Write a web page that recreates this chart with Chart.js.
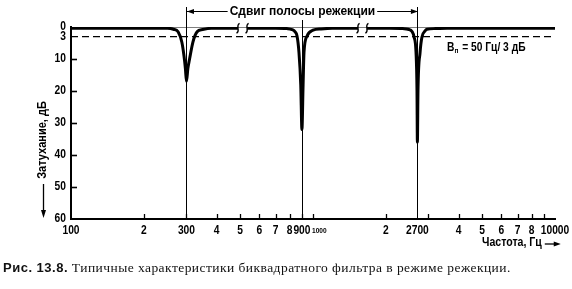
<!DOCTYPE html>
<html lang="ru">
<head>
<meta charset="UTF-8" />
<title>Рис. 13.8</title>
<script src="https://cdn.jsdelivr.net/npm/chart.js"></script>
<style>
  body { margin: 0; background: #fff; }
  #wrap { position: relative; width: 572px; height: 289px; overflow: hidden; }
  canvas { position: absolute; left: 0; top: 0; }
  .caption {
    position: absolute; left: 3px; top: 260px; white-space: nowrap; color: #111;
    font: 13.5px "Liberation Serif"; letter-spacing: 0.45px;
  }
  .caption b { font: bold 13px "Liberation Sans"; letter-spacing: 0.5px; }
</style>
</head>
<body>
<div id="wrap">
  <canvas id="chart" width="572" height="289"></canvas>
  <div class="caption"><b>Рис. 13.8.</b> Типичные характеристики биквадратного фильтра в режиме режекции.</div>
</div>
<script>
// notch centres, Hz
const notchFreqs = [300, 900, 2700];

// three pieces of the measured response: frequency (Hz) / attenuation (dB)
const freqA = [100, 250, 265, 277, 287, 293, 297, 300, 304, 309, 319, 332, 350, 380, 490];
const attA  = [0.4, 0.4, 0.7, 1.5, 4.7, 9, 13, 17, 13, 10, 4.7, 1.5, 0.8, 0.4, 0.4];

const freqB = [534, 700, 780, 819, 845, 859, 875, 890, 900, 910, 918, 945, 1000, 1080, 1200, 1535];
const attB  = [0.4, 0.4, 0.5, 0.8, 1.6, 2.8, 7.9, 18, 32, 18, 7.9, 2.8, 1.0, 0.6, 0.4, 0.4];

const freqC = [1670, 2080, 2350, 2470, 2570, 2615, 2665, 2690, 2700, 2715, 2770, 2820, 2900, 2958, 3200, 3580, 10000];
const attC  = [0.4, 0.4, 0.5, 0.7, 1.5, 3.1, 7.9, 20, 36, 20, 7.9, 3.1, 1.3, 0.7, 0.5, 0.4, 0.4];

// where the pieces are joined (break marks on the 0 dB line)
const breakFreqs = [490, 534, 1535, 1670];

const dashLevel = 3;
const yTicks = [0, 3, 10, 20, 30, 40, 50, 60];
const yMinorTicks = [10, 20, 30, 40, 50];

const xTickMarks = [200, 300, 400, 500, 600, 700, 800, 900, 1000, 2000, 3000, 4000, 5000, 6000, 7000, 8000, 9000];
const xLabelValues = [100, 200, 300, 400, 500, 600, 700, 800, 900, 1000, 2000, 2700, 4000, 5000, 6000, 7000, 8000, 10000];
const xLabelTexts  = ['100', '2', '300', '4', '5', '6', '7', '8', '900', '1000', '2', '2700', '4', '5', '6', '7', '8', '10000'];

function toPoints(fs, as) {
  return fs.map((f, i) => ({ x: f, y: as[i] }));
}

function piece(fs, as) {
  return {
    data: toPoints(fs, as),
    borderColor: '#000',
    borderWidth: 3,
    cubicInterpolationMode: 'monotone',
    pointRadius: 0
  };
}

// bold sans squeezed horizontally, the book uses a condensed face
function narrowText(ctx, text, x, y, size, align, squeeze) {
  squeeze = squeeze || 0.82;
  ctx.save();
  ctx.font = 'bold ' + size + 'px "Liberation Sans"';
  ctx.textAlign = align;
  ctx.textBaseline = 'middle';
  const w = ctx.measureText(text).width * squeeze;
  ctx.translate(x, y);
  ctx.scale(squeeze, 1);
  ctx.fillText(text, 0, 0);
  ctx.restore();
  return w;
}

const decor = {
  id: 'decor',
  afterDraw(chart) {
    const { ctx, chartArea: a, scales: { x, y } } = chart;
    ctx.save();
    ctx.strokeStyle = '#000';
    ctx.fillStyle = '#000';

    // thin vertical lines through the notches
    ctx.lineWidth = 1;
    notchFreqs.forEach((f, i) => {
      const px = Math.round(x.getPixelForValue(f)) + 0.5;
      ctx.beginPath();
      ctx.moveTo(px, i === 1 ? a.top - 7 : a.top - 20);
      ctx.lineTo(px, a.bottom);
      ctx.stroke();
    });

    // bracket "Сдвиг полосы режекции"
    const bx0 = x.getPixelForValue(notchFreqs[0]) + 0.5;
    const bx1 = x.getPixelForValue(notchFreqs[2]) + 0.5;
    const by = a.top - 15.5;
    ctx.font = 'bold 12px "Liberation Sans"';
    ctx.textAlign = 'center';
    ctx.textBaseline = 'middle';
    const label = 'Сдвиг полосы режекции';
    const cx = (bx0 + bx1) / 2;
    const tw = ctx.measureText(label).width;
    ctx.fillText(label, cx, by);
    ctx.beginPath();
    ctx.moveTo(bx0, by); ctx.lineTo(cx - tw / 2 - 2, by);
    ctx.moveTo(cx + tw / 2 + 2, by); ctx.lineTo(bx1, by);
    ctx.stroke();
    ctx.beginPath();
    ctx.moveTo(bx0, by); ctx.lineTo(bx0 + 7, by - 2.5); ctx.lineTo(bx0 + 7, by + 2.5); ctx.closePath();
    ctx.moveTo(bx1, by); ctx.lineTo(bx1 - 7, by - 2.5); ctx.lineTo(bx1 - 7, by + 2.5); ctx.closePath();
    ctx.fill();

    // break marks
    ctx.lineWidth = 1.3;
    breakFreqs.forEach(f => {
      const px = x.getPixelForValue(f);
      const py = y.getPixelForValue(0.4);
      ctx.beginPath();
      ctx.moveTo(px - 1.5, py + 5);
      ctx.bezierCurveTo(px + 3, py + 2, px - 3, py - 2, px + 1.5, py - 5);
      ctx.stroke();
    });

    // inward ticks
    ctx.lineWidth = 1.3;
    xTickMarks.forEach(v => {
      const px = Math.round(x.getPixelForValue(v)) + 0.5;
      ctx.beginPath();
      ctx.moveTo(px, a.bottom);
      ctx.lineTo(px, a.bottom - 5);
      ctx.stroke();
    });
    ctx.lineWidth = 1.6;
    yMinorTicks.forEach(v => {
      const py = Math.round(y.getPixelForValue(v)) + 0.5;
      ctx.beginPath();
      ctx.moveTo(a.left, py);
      ctx.lineTo(a.left + 6, py);
      ctx.stroke();
    });

    // y tick labels
    yTicks.forEach(v => {
      narrowText(ctx, String(v), a.left - 5, y.getPixelForValue(v), 12.5, 'right');
    });

    // x tick labels
    xLabelValues.forEach((v, i) => {
      const px = x.getPixelForValue(v);
      if (v === 1000) {
        narrowText(ctx, xLabelTexts[i], px - 1, a.bottom + 12, 8, 'left');
      } else {
        narrowText(ctx, xLabelTexts[i], px, a.bottom + 12, 12.5, 'center');
      }
    });

    // x title with arrow
    const xtx = 482, xty = a.bottom + 24;
    const xw = narrowText(ctx, 'Частота, Гц', xtx, xty, 12, 'left', 0.88);
    const ax0 = xtx + xw + 3;
    ctx.lineWidth = 1.3;
    ctx.beginPath();
    ctx.moveTo(ax0, xty + 1); ctx.lineTo(ax0 + 12, xty + 1);
    ctx.stroke();
    ctx.beginPath();
    ctx.moveTo(ax0 + 16, xty + 1); ctx.lineTo(ax0 + 9, xty - 1.5); ctx.lineTo(ax0 + 9, xty + 3.5); ctx.closePath();
    ctx.fill();

    // y title with arrow
    ctx.save();
    ctx.translate(43, 140);
    ctx.rotate(-Math.PI / 2);
    narrowText(ctx, 'Затухание, дБ', 0, 0, 12.5, 'center', 0.88);
    ctx.restore();
    ctx.beginPath();
    ctx.moveTo(43.5, 184); ctx.lineTo(43.5, 212);
    ctx.stroke();
    ctx.beginPath();
    ctx.moveTo(43.5, 218); ctx.lineTo(41, 210); ctx.lineTo(46, 210); ctx.closePath();
    ctx.fill();

    // bandwidth note
    let nx = 447;
    const ny = y.getPixelForValue(6.5);
    nx += narrowText(ctx, 'B', nx, ny, 12.5, 'left');
    nx += narrowText(ctx, 'п', nx, ny + 3, 8, 'left') + 1;
    narrowText(ctx, ' = 50 Гц/ 3 дБ', nx, ny, 12.5, 'left');

    ctx.restore();
  }
};

new Chart(document.getElementById('chart'), {
  type: 'line',
  data: {
    datasets: [
      piece(freqA, attA),
      piece(freqB, attB),
      piece(freqC, attC),
      {
        data: [{ x: 100, y: dashLevel }, { x: 10000, y: dashLevel }],
        borderColor: '#000', borderWidth: 1.2, borderDash: [7, 4], pointRadius: 0
      },
      {
        data: [{ x: 100, y: 0 }, { x: 10000, y: 0 }],
        borderColor: '#000', borderWidth: 1, pointRadius: 0
      }
    ]
  },
  options: {
    responsive: false,
    animation: false,
    devicePixelRatio: 1,
    layout: { padding: { top: 27, right: 17, bottom: 0, left: 0 } },
    plugins: { legend: { display: false }, tooltip: { enabled: false } },
    scales: {
      x: {
        type: 'logarithmic', min: 100, max: 10000,
        afterFit: s => { s.height = 70; },
        ticks: { display: false },
        grid: { display: false },
        border: { display: true, color: '#000', width: 2 }
      },
      y: {
        min: 0, max: 60, reverse: true,
        afterFit: s => { s.width = 71; },
        afterBuildTicks: s => { s.ticks = yTicks.map(v => ({ value: v })); },
        ticks: { display: false },
        grid: { display: false },
        border: { display: true, color: '#000', width: 2 }
      }
    }
  },
  plugins: [decor]
});
</script>
</body>
</html>
